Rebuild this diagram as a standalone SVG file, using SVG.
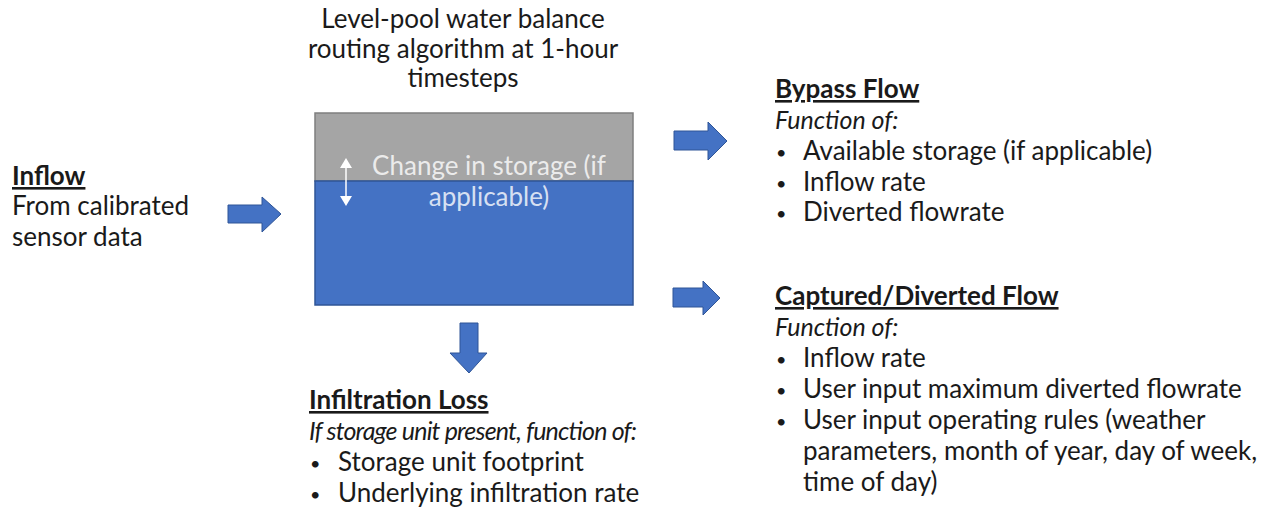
<svg xmlns="http://www.w3.org/2000/svg" width="1262" height="510" viewBox="0 0 1262 510">
<defs>
<style>
text{font-family:Lato,"Open Sans","Liberation Sans",sans-serif;font-size:26px;fill:#1a1a1a}
.h{text-decoration:underline;font-weight:bold}
.i{font-style:italic;font-size:25px}
.b{font-size:18px}
.bar{fill:#4472c4;stroke:#2f5597;stroke-width:1}
.w{fill:#ffffff;fill-opacity:0.8}
</style>
</defs>
<rect width="1262" height="510" fill="#ffffff"/>
<g id="title">
<text x="463" y="28" text-anchor="middle">Level-pool water balance</text>
<text x="463" y="58" text-anchor="middle">routing algorithm at 1-hour</text>
<text x="463" y="87" text-anchor="middle">timesteps</text>
</g>
<g id="storage">
<rect x="315" y="113" width="318" height="68" fill="#a5a5a5" stroke="#7f7f7f" stroke-width="1.5"/>
<rect x="315" y="181" width="318" height="124" fill="#4472c4" stroke="#2f5597" stroke-width="1.5"/>
<line x1="346" y1="166" x2="346" y2="196" stroke="#ffffff" stroke-width="1.5"/>
<polygon points="346,158 340,168 352,168" fill="#ffffff"/>
<polygon points="346,206 340,196 352,196" fill="#ffffff"/>
<text class="w" x="489" y="175" text-anchor="middle">Change in storage (if</text>
<text class="w" x="489" y="206" text-anchor="middle">applicable)</text>
</g>
<g id="inflow">
<text class="h" x="12" y="185">Inflow</text>
<text x="12" y="215">From calibrated</text>
<text x="12" y="246">sensor data</text>
</g>
<g id="bypass">
<text class="h" x="775" y="98">Bypass Flow</text>
<text class="i" x="775" y="129">Function of:</text>
<text class="b" x="776" y="159">•</text><text x="803" y="160">Available storage (if applicable)</text>
<text class="b" x="776" y="190">•</text><text x="803" y="191">Inflow rate</text>
<text class="b" x="776" y="220">•</text><text x="803" y="221">Diverted flowrate</text>
</g>
<g id="captured">
<text class="h" x="775" y="305">Captured/Diverted Flow</text>
<text class="i" x="775" y="336">Function of:</text>
<text class="b" x="776" y="366">•</text><text x="803" y="367">Inflow rate</text>
<text class="b" x="776" y="397">•</text><text x="803" y="398">User input maximum diverted flowrate</text>
<text class="b" x="776" y="428">•</text><text x="803" y="429">User input operating rules (weather</text>
<text x="803" y="460">parameters, month of year, day of week,</text>
<text x="803" y="491">time of day)</text>
</g>
<g id="infiltration">
<text class="h" x="309" y="409">Infiltration Loss</text>
<text class="i" x="309" y="440" textLength="328" lengthAdjust="spacing">If storage unit present, function of:</text>
<text class="b" x="310" y="470">•</text><text x="338" y="471">Storage unit footprint</text>
<text class="b" x="310" y="501">•</text><text x="338" y="502">Underlying infiltration rate</text>
</g>
<g id="connectors">
<polygon class="bar" points="228,205 262,205 262,197 281,214 262,232 262,223 228,223"/>
<polygon class="bar" points="674,131 708,131 708,122 727,141 708,160 708,150 674,150"/>
<polygon class="bar" points="673,288 703,288 703,281 720,298 703,315 703,307 673,307"/>
<polygon class="bar" points="460,323 478,323 478,353 487,353 469,373 450,353 460,353"/>
</g>
</svg>
